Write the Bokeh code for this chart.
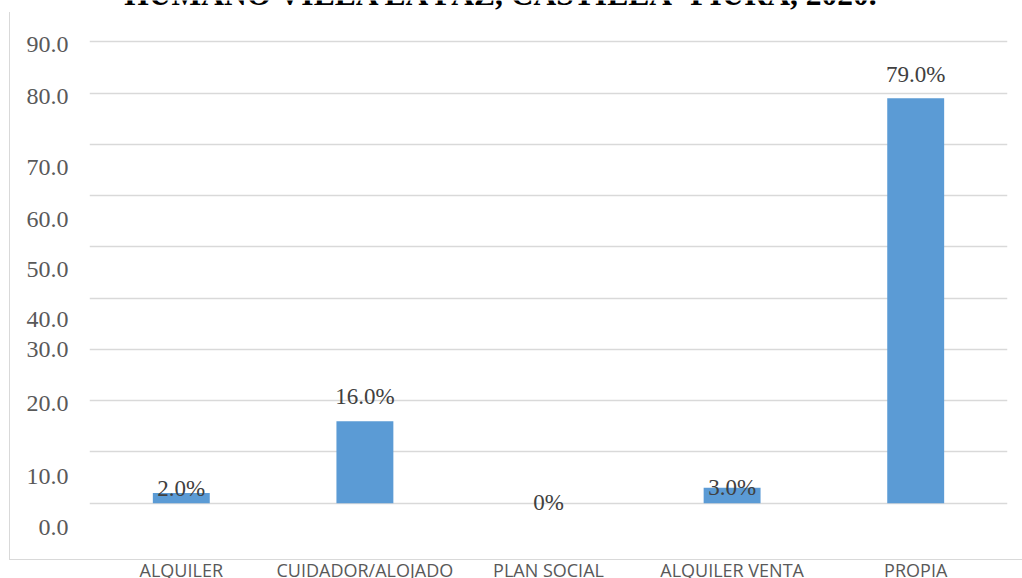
from bokeh.plotting import figure
from bokeh.models import (ColumnDataSource, FactorRange, Range1d, FixedTicker,
                          Label, InlineStyleSheet)
from bokeh.core.properties import value
from bokeh.embed import file_html
from bokeh.resources import INLINE

# Housing tenure of households (percent)
categories = ["ALQUILER", "CUIDADOR/ALOJADO", "PLAN SOCIAL", "ALQUILER VENTA", "PROPIA"]
percentages = [2.0, 16.0, 0.0, 3.0, 79.0]
value_labels = ["2.0%", "16.0%", "0%", "3.0%", "79.0%"]

# Gridlines every 10 units, and the hand-placed axis captions beside them
grid_values = [0, 10, 20, 30, 40, 50, 60, 70, 80, 90]
tick_labels = ["90.0", "80.0", "70.0", "60.0", "50.0", "40.0", "30.0", "20.0", "10.0", "0.0"]
tick_label_at = [89.4, 79.4, 65.5, 55.4, 45.6, 35.8, 29.9, 19.5, 5.2, -4.7]

# Vertical nudges (px) of the value captions relative to each bar top
label_nudge = [-4, -24.5, -0.5, -0.8, -23.5]

title_text = "HUMANO VILLA LA PAZ, CASTILLA- PIURA, 2020."

SERIF = "Liberation Serif"
SANS = "Open Sans"

source = ColumnDataSource(dict(cat=categories, pct=percentages,
                               lbl=value_labels, nudge=label_nudge))

# The plotting area spans the full canvas height so that the category names
# and the title (which runs off the top edge) can be drawn inside it.
p = figure(x_range=FactorRange(*categories, range_padding=0),
           y_range=Range1d(-14.69, 98.06),
           width=1022, height=578,
           output_backend="svg", toolbar_location=None,
           min_border_left=89, min_border_right=15,
           min_border_top=0, min_border_bottom=0)

p.outline_line_color = None
p.background_fill_color = "white"
p.border_fill_color = "white"

p.vbar(x="cat", top="pct", width=0.31, source=source,
       fill_color="#5B9BD5", line_color=None)

p.text(x="cat", y="pct", text="lbl", y_offset="nudge", source=source,
       text_align="center", text_baseline="alphabetic",
       text_font=value(SERIF), text_font_size="23px", text_color="#404040")

# Category names under the chart border
p.text(x="cat", y=-13.0, text="cat", source=source,
       text_align="center", text_baseline="alphabetic",
       text_font=value(SANS), text_font_size="18px", text_color="#595959")

# Grid
p.xgrid.visible = False
p.ygrid.ticker = FixedTicker(ticks=grid_values)
p.ygrid.grid_line_color = "#d9d9d9"
p.ygrid.grid_line_width = 1.5

# Y axis: captions only
p.yaxis.ticker = FixedTicker(ticks=tick_label_at)
p.yaxis.major_label_overrides = dict(zip(tick_label_at, tick_labels))
p.yaxis.axis_line_color = None
p.yaxis.major_tick_line_color = None
p.yaxis.minor_tick_line_color = None
p.yaxis.major_tick_out = 0
p.yaxis.major_tick_in = 0
p.yaxis.major_label_standoff = 21
p.yaxis.major_label_text_font = SERIF
p.yaxis.major_label_text_font_size = "24px"
p.yaxis.major_label_text_color = "#595959"

p.xaxis.visible = False

# Title (runs off the top edge)
p.add_layout(Label(x=2.2495, y=99.16, text=title_text, text_align="center",
                   text_baseline="alphabetic", text_font=SERIF,
                   text_font_style="bold", text_font_size="31.5px",
                   text_color="black"))

# Light frame around the chart area (left and bottom edges)
p.stylesheets = [InlineStyleSheet(css="""
:host { position: relative; }
:host::after {
  content: "";
  position: absolute;
  left: 9px; top: 12px;
  width: 1013px; height: 548px;
  box-sizing: border-box;
  border-left: 1.5px solid #d9d9d9;
  border-bottom: 1.5px solid #d9d9d9;
  pointer-events: none;
}
""")]

open("out.html", "w").write(file_html(p, INLINE))
